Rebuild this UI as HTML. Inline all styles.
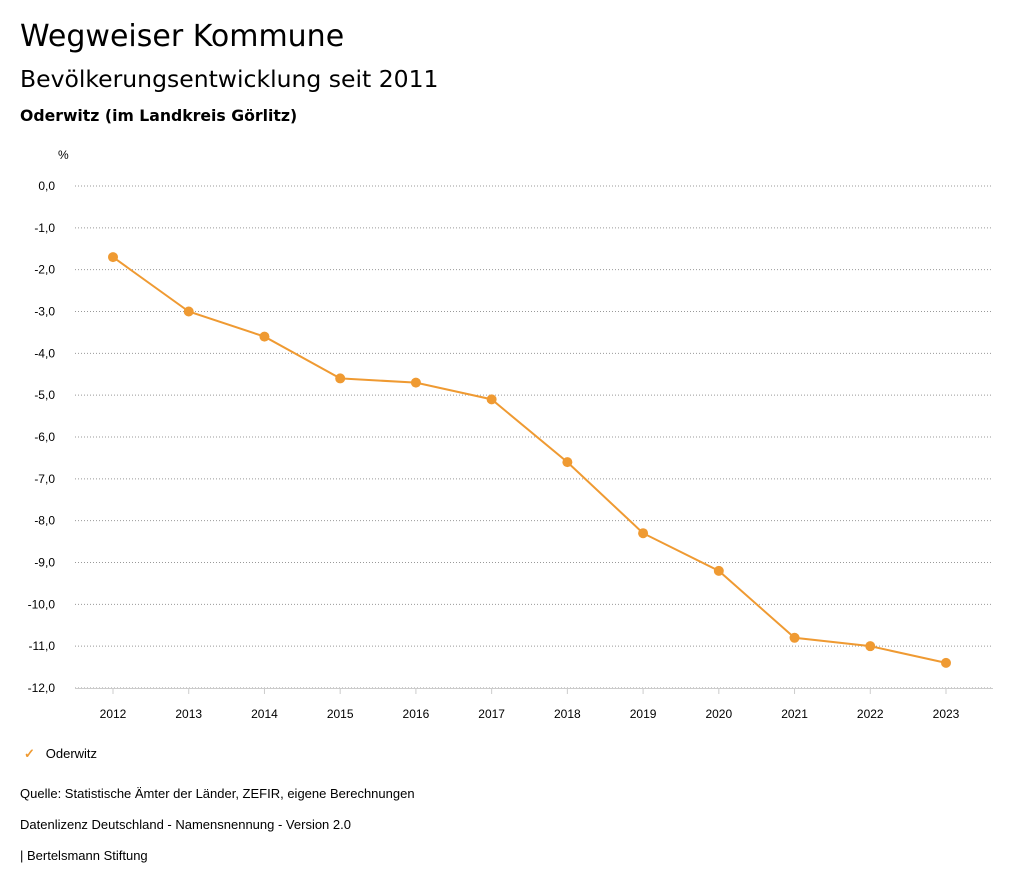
<!DOCTYPE html>
<html><head><meta charset="utf-8"><style>
body{margin:0;width:1024px;height:888px;background:#fff;font-family:"Liberation Sans",sans-serif;color:#000;position:relative;overflow:hidden}
.t{position:absolute;white-space:nowrap}
</style></head><body>
<div class="t" style="left:20px;top:19px;font-size:30px;font-family:'DejaVu Sans',sans-serif">Wegweiser Kommune</div>
<div class="t" style="left:20px;top:65px;font-size:23.5px;font-family:'DejaVu Sans',sans-serif">Bevölkerungsentwicklung seit 2011</div>
<div class="t" style="left:20px;top:106px;font-size:15.7px;font-weight:bold;font-family:'DejaVu Sans',sans-serif">Oderwitz (im Landkreis Görlitz)</div>
<svg id="c" width="1024" height="888" style="position:absolute;left:0;top:0"></svg>
<div class="t" style="left:24px;top:746px;font-size:13px"><span style="color:#ef9a32;font-weight:bold">✓</span>&nbsp;&nbsp;&nbsp;Oderwitz</div>
<div class="t" style="left:20px;top:786px;font-size:13px">Quelle: Statistische Ämter der Länder, ZEFIR, eigene Berechnungen</div>
<div class="t" style="left:20px;top:817px;font-size:13px">Datenlizenz Deutschland - Namensnennung - Version 2.0</div>
<div class="t" style="left:20px;top:848px;font-size:13px">| Bertelsmann Stiftung</div>
<script>
const years=[2012,2013,2014,2015,2016,2017,2018,2019,2020,2021,2022,2023];
const values=[-1.7,-3.0,-3.6,-4.6,-4.7,-5.1,-6.6,-8.3,-9.2,-10.8,-11.0,-11.4];
const yTicks=[0,-1,-2,-3,-4,-5,-6,-7,-8,-9,-10,-11,-12];
const svg=document.getElementById('c');const NS='http://www.w3.org/2000/svg';
const X=i=>113+i*(946-113)/11;
const Y=v=>186+(-v)*(688-186)/12;
function el(t,a){const e=document.createElementNS(NS,t);for(const k in a)e.setAttribute(k,a[k]);svg.appendChild(e);return e;}
let u=el('text',{x:58,y:159,'font-size':12,'font-family':'Liberation Sans'});u.textContent='%';


yTicks.forEach(v=>{
 const g=el('line',{x1:75,x2:993,y1:Y(v),y2:Y(v),stroke:'#999','stroke-dasharray':'1,2','stroke-width':1});
 
 
 const t=el('text',{x:55,y:Y(v)+4,'font-size':12,'text-anchor':'end','font-family':'Liberation Sans'});
 t.textContent=v.toFixed(1).replace('.',',');
 
 
});
const ax=el('line',{x1:75,x2:993,y1:688.5,y2:688.5,stroke:'#ccc'});


years.forEach((yr,i)=>{
 const tk=el('line',{x1:X(i),x2:X(i),y1:688,y2:694,stroke:'#ccc'});
 
 
 const t=el('text',{x:X(i),y:718,'font-size':12,'text-anchor':'middle','font-family':'Liberation Sans'});
 t.textContent=yr;
 
 
});
const p=el('polyline',{points:values.map((v,i)=>X(i)+','+Y(v)).join(' '),fill:'none',stroke:'#ef9a32','stroke-width':2});


values.forEach((v,i)=>{
 const c=el('circle',{cx:X(i),cy:Y(v),r:5,fill:'#ef9a32'});
 
 
});
</script>
</body></html>
